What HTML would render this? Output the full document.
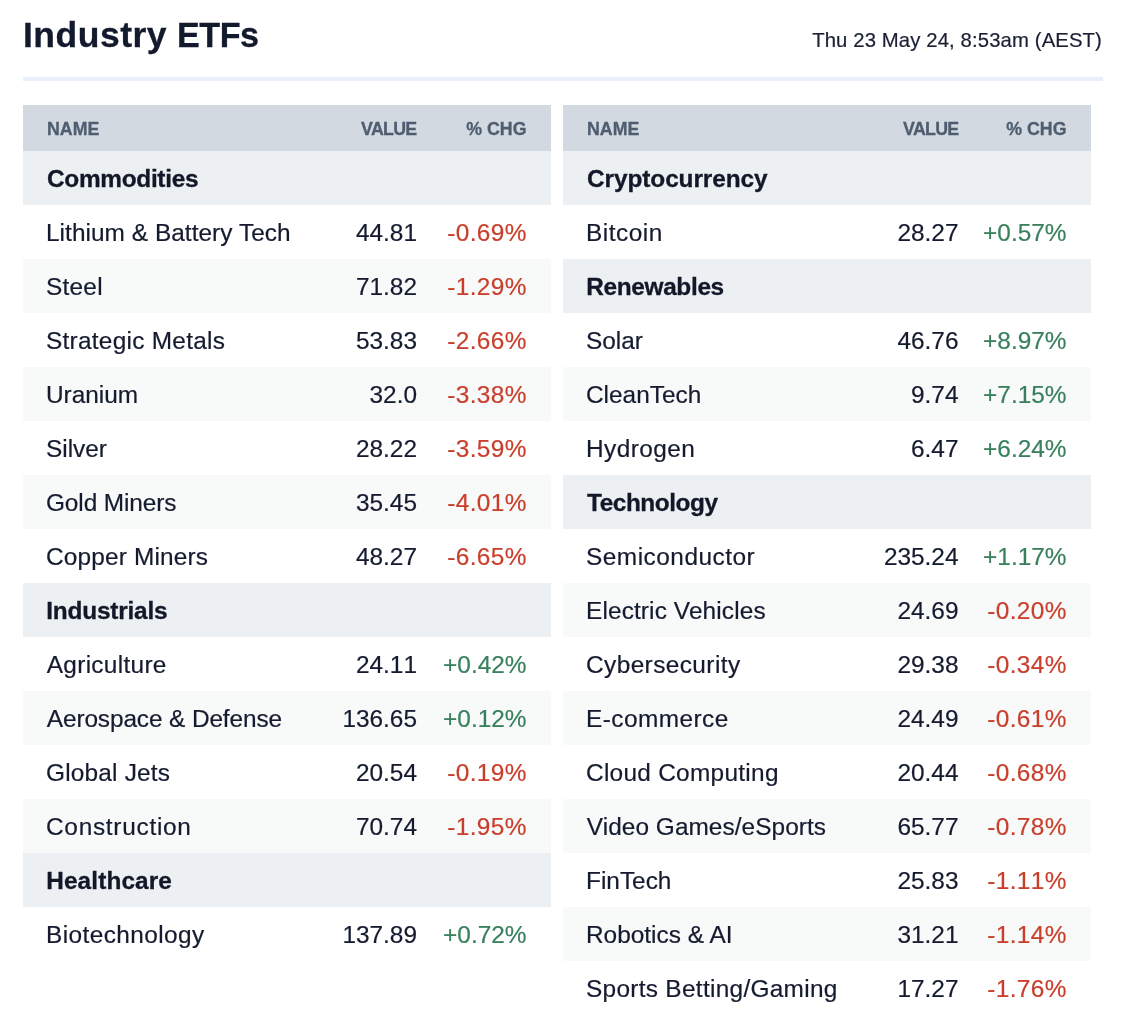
<!DOCTYPE html>
<html><head><meta charset="utf-8"><title>Industry ETFs</title>
<style>
*{margin:0;padding:0;box-sizing:border-box}
html,body{width:1128px;height:1032px;background:#fff;overflow:hidden}
body{font-family:"Liberation Sans",sans-serif;color:#151b2f;position:relative;-webkit-font-smoothing:antialiased}
#page{position:relative;width:1128px;height:1032px;will-change:transform;background:#fff}
.title{position:absolute;left:23px;top:8px;height:54px;line-height:54px;font-size:35.5px;font-weight:bold;white-space:nowrap;color:#141a2e}
.date{letter-spacing:0.125px;position:absolute;right:26px;top:13px;height:54px;line-height:54px;font-size:20.3px;white-space:nowrap;color:#1a2034}
.rule{position:absolute;left:23px;top:77px;width:1080px;height:4px;background:#e9eff8}
.tbl{position:absolute;top:105px;width:528px}
.hd{position:absolute;left:0;top:0;width:528px;height:46px;background:#d3d9e0;color:#4e5d70;font-weight:bold;font-size:17.8px;line-height:46px}
.r{position:absolute;left:0;width:528px;height:54px;line-height:54px;font-size:24.4px}
.r.alt{background:#f8fafa}
.r.cat{background:#edf0f3;font-weight:bold;color:#131829}
.n{position:absolute;left:23px;top:0;white-space:nowrap}
.cat .n,.hd .n{left:24px}
.neg{letter-spacing:0.4px;margin-right:-0.4px}

#tR .v{right:132.5px}
#tR .hd .v{right:132.5px}
.v{position:absolute;right:134px;top:0;white-space:nowrap;text-align:right}
.c{position:absolute;right:24.5px;top:0;white-space:nowrap;text-align:right}
.neg{color:#c93f2b}
.pos{color:#39805c}
.hd .n{top:0.5px}
.hd .v{right:134.5px;top:0.5px;letter-spacing:-0.7px}
.hd .c{right:24.5px;top:0.5px}
.r span{top:0.5px}
.r .v,.r .c{font-kerning:none}
.r,.date{-webkit-text-stroke:0.2px currentColor}
.r.cat,.title,.hd{-webkit-text-stroke:0.3px currentColor}
</style></head><body><div id="page">
<div class="title" id="title"><span style="letter-spacing:0.5px">Industry</span> <span style="display:inline-block;letter-spacing:-0.5px;transform:scaleX(0.962);transform-origin:0 50%">ETFs</span></div>
<div class="date" id="date">Thu 23 May 24, 8:53am (AEST)</div>
<div class="rule"></div>
<div class="tbl" id="tL" style="left:23px">
<div class="hd"><span class="n">NAME</span><span class="v">VALUE</span><span class="c">% CHG</span></div>
<div class="r cat" style="top:46px"><span class="n" id="L0" style="letter-spacing:-0.300px;">Commodities</span></div>
<div class="r" style="top:100px"><span class="n" id="L1" style="letter-spacing:0.047px;">Lithium &amp; Battery Tech</span><span class="v" id="L1v">44.81</span><span class="c neg" id="L1c">-0.69%</span></div>
<div class="r alt" style="top:154px"><span class="n" id="L2" style="letter-spacing:0.250px;">Steel</span><span class="v" id="L2v">71.82</span><span class="c neg" id="L2c">-1.29%</span></div>
<div class="r" style="top:208px"><span class="n" id="L3" style="letter-spacing:0.268px;">Strategic Metals</span><span class="v" id="L3v">53.83</span><span class="c neg" id="L3c">-2.66%</span></div>
<div class="r alt" style="top:262px"><span class="n" id="L4" style="letter-spacing:0.001px;">Uranium</span><span class="v" id="L4v">32.0</span><span class="c neg" id="L4c">-3.38%</span></div>
<div class="r" style="top:316px"><span class="n" id="L5">Silver</span><span class="v" id="L5v">28.22</span><span class="c neg" id="L5c">-3.59%</span></div>
<div class="r alt" style="top:370px"><span class="n" id="L6" style="letter-spacing:-0.100px;">Gold Miners</span><span class="v" id="L6v">35.45</span><span class="c neg" id="L6c">-4.01%</span></div>
<div class="r" style="top:424px"><span class="n" id="L7" style="letter-spacing:0.168px;">Copper Miners</span><span class="v" id="L7v">48.27</span><span class="c neg" id="L7c">-6.65%</span></div>
<div class="r cat" style="top:478px"><span class="n" id="L8" style="margin-left:-0.8px;letter-spacing:-0.200px;">Industrials</span></div>
<div class="r" style="top:532px"><span class="n" id="L9" style="margin-left:0.8px;letter-spacing:0.300px;">Agriculture</span><span class="v" id="L9v">24.11</span><span class="c pos" id="L9c">+0.42%</span></div>
<div class="r alt" style="top:586px"><span class="n" id="L10" style="margin-left:0.8px;letter-spacing:-0.112px;">Aerospace &amp; Defense</span><span class="v" id="L10v">136.65</span><span class="c pos" id="L10c">+0.12%</span></div>
<div class="r" style="top:640px"><span class="n" id="L11" style="letter-spacing:0.200px;">Global Jets</span><span class="v" id="L11v">20.54</span><span class="c neg" id="L11c">-0.19%</span></div>
<div class="r alt" style="top:694px"><span class="n" id="L12" style="letter-spacing:0.728px;">Construction</span><span class="v" id="L12v">70.74</span><span class="c neg" id="L12c">-1.95%</span></div>
<div class="r cat" style="top:748px"><span class="n" id="L13" style="margin-left:-0.8px;letter-spacing:0.111px;">Healthcare</span></div>
<div class="r" style="top:802px"><span class="n" id="L14" style="letter-spacing:0.418px;">Biotechnology</span><span class="v" id="L14v">137.89</span><span class="c pos" id="L14c">+0.72%</span></div>
</div>
<div class="tbl" id="tR" style="left:563px">
<div class="hd"><span class="n">NAME</span><span class="v">VALUE</span><span class="c">% CHG</span></div>
<div class="r cat" style="top:46px"><span class="n" id="R0" style="letter-spacing:-0.077px;">Cryptocurrency</span></div>
<div class="r" style="top:100px"><span class="n" id="R1" style="letter-spacing:0.500px;">Bitcoin</span><span class="v" id="R1v">28.27</span><span class="c pos" id="R1c">+0.57%</span></div>
<div class="r cat" style="top:154px"><span class="n" id="R2" style="margin-left:-0.8px;letter-spacing:-0.335px;">Renewables</span></div>
<div class="r" style="top:208px"><span class="n" id="R3">Solar</span><span class="v" id="R3v">46.76</span><span class="c pos" id="R3c">+8.97%</span></div>
<div class="r alt" style="top:262px"><span class="n" id="R4" style="letter-spacing:0.004px;">CleanTech</span><span class="v" id="R4v">9.74</span><span class="c pos" id="R4c">+7.15%</span></div>
<div class="r" style="top:316px"><span class="n" id="R5" style="letter-spacing:0.430px;">Hydrogen</span><span class="v" id="R5v">6.47</span><span class="c pos" id="R5c">+6.24%</span></div>
<div class="r cat" style="top:370px"><span class="n" id="R6" style="letter-spacing:-0.442px;">Technology</span></div>
<div class="r" style="top:424px"><span class="n" id="R7" style="letter-spacing:0.499px;">Semiconductor</span><span class="v" id="R7v">235.24</span><span class="c pos" id="R7c">+1.17%</span></div>
<div class="r alt" style="top:478px"><span class="n" id="R8" style="letter-spacing:0.125px;">Electric Vehicles</span><span class="v" id="R8v">24.69</span><span class="c neg" id="R8c">-0.20%</span></div>
<div class="r" style="top:532px"><span class="n" id="R9" style="letter-spacing:0.418px;">Cybersecurity</span><span class="v" id="R9v">29.38</span><span class="c neg" id="R9c">-0.34%</span></div>
<div class="r alt" style="top:586px"><span class="n" id="R10" style="letter-spacing:0.446px;">E-commerce</span><span class="v" id="R10v">24.49</span><span class="c neg" id="R10c">-0.61%</span></div>
<div class="r" style="top:640px"><span class="n" id="R11" style="letter-spacing:0.286px;">Cloud Computing</span><span class="v" id="R11v">20.44</span><span class="c neg" id="R11c">-0.68%</span></div>
<div class="r alt" style="top:694px"><span class="n" id="R12" style="margin-left:0.8px;letter-spacing:0.056px;">Video Games/eSports</span><span class="v" id="R12v">65.77</span><span class="c neg" id="R12c">-0.78%</span></div>
<div class="r" style="top:748px"><span class="n" id="R13">FinTech</span><span class="v" id="R13v">25.83</span><span class="c neg" id="R13c">-1.11%</span></div>
<div class="r alt" style="top:802px"><span class="n" id="R14" style="letter-spacing:0.001px;">Robotics &amp; AI</span><span class="v" id="R14v">31.21</span><span class="c neg" id="R14c">-1.14%</span></div>
<div class="r" style="top:856px"><span class="n" id="R15" style="letter-spacing:0.300px;">Sports Betting/Gaming</span><span class="v" id="R15v">17.27</span><span class="c neg" id="R15c">-1.76%</span></div>
</div>
</div></body></html>
